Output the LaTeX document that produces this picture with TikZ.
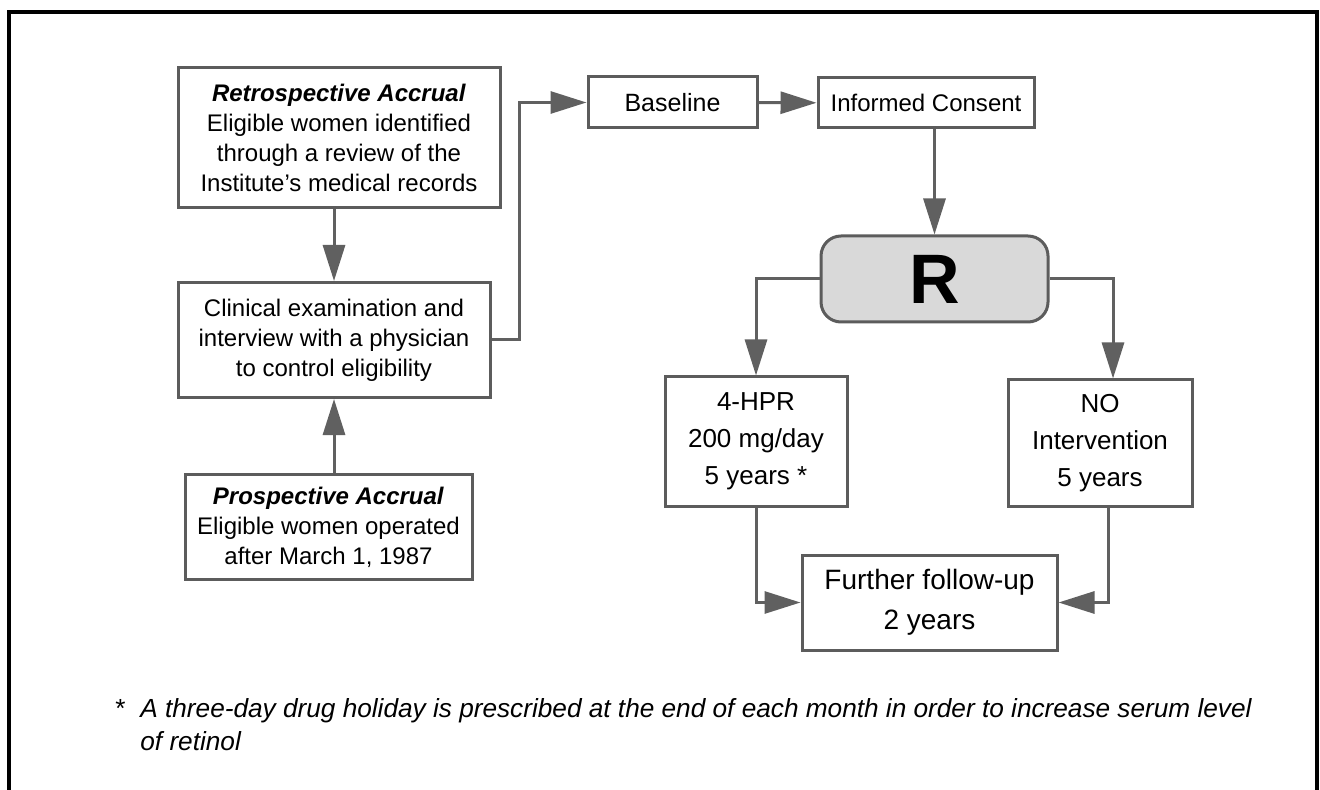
\documentclass[tikz,border=0pt]{standalone}
\usepackage{fontspec}
\setmainfont{Liberation Sans}
\usepackage{tikz}
\usetikzlibrary{arrows.meta,calc}
\definecolor{FlowGrey}{HTML}{606060}
\definecolor{FlowLine}{HTML}{5C5C5C}
\definecolor{FlowFill}{HTML}{D9D9D9}

\begin{document}
\begin{tikzpicture}[x=0.5pt,y=-0.5pt,
  box/.style={draw=FlowLine,line width=1.5pt,fill=white,align=center,
    inner sep=0pt,font=\fontsize{12}{15}\selectfont},
  armbox/.style={box,font=\fontsize{13}{18.5}\selectfont},
  link/.style={FlowGrey,line width=1.5pt,
    -{Triangle[length=18pt,width=11pt]}}]
  \useasboundingbox (0,0) rectangle (1320,790);
  % outer frame, open at the bottom
  \draw[line width=2pt] (9,790) -- (9,12) -- (1317,12) -- (1317,790);

  \node[box,minimum width=161pt,minimum height=70pt] (retro) at (339,138)
    {\textbf{\itshape Retrospective Accrual}\\Eligible women identified\\
     through a review of the\\Institute's medical records};
  \node[box,minimum width=156pt,minimum height=57.5pt] (clin) at (334,340)
    {Clinical examination and\\interview with a physician\\
     to control eligibility};
  \node[box,minimum width=143.5pt,minimum height=52.5pt] (prosp) at (328.5,527)
    {\textbf{\itshape Prospective Accrual}\\Eligible women operated\\
     after March 1, 1987};
  \node[box,font=\fontsize{12.5}{15}\selectfont,minimum width=84.5pt,
    minimum height=25.5pt] (base) at (672.5,102.5) {Baseline};
  \node[box,minimum width=108pt,minimum height=25pt] (ic) at (926,103)
    {Informed Consent};
  \node[box,fill=FlowFill,rounded corners=10pt,minimum width=113.5pt,
    minimum height=43pt,font=\fontsize{35}{38}\bfseries] (R) at (934.5,279) {R};
  \node[armbox,minimum width=91pt,minimum height=64.5pt] (hpr) at (756,441.5)
    {4-HPR\\200 mg/day\\5 years *};
  \node[armbox,minimum width=92pt,minimum height=63pt] (no) at (1100,443)
    {NO\\Intervention\\5 years};
  \node[box,font=\fontsize{14}{20}\selectfont,minimum width=127.5pt,
    minimum height=47.5pt] (further) at (929.5,602.5)
    {Further follow-up\\2 years};

  \coordinate (bend) at (519,340);
  \draw[link] (clin.north |- retro.south) -- (clin.north);
  \draw[link] (clin.south |- prosp.north) -- (clin.south);
  \draw[link] (clin.east |- bend) -- (bend) |- (base.west);
  \draw[link] (base) -- (ic);
  \draw[link] (ic.south -| R.north) -- (R.north);
  \draw[link] (R.west) -| (hpr.north);
  \draw[link] (R.east) -| ([xshift=6.5pt]no.north);
  \draw[link] (hpr.south) |- (further.west);
  \draw[link] ([xshift=4pt]no.south) |- (further.east);

  % footnote to the 4-HPR arm
  \node[anchor=north west,align=left,inner sep=0pt,
    font=\fontsize{13.1}{16.5}\selectfont] (note) at (115,698)
    {\makebox[12.5pt][l]{*}\itshape A three-day drug holiday is prescribed
     at the end of each month in order to increase serum level\\
     \makebox[12.5pt][l]{}\itshape of retinol};
\end{tikzpicture}
\end{document}
